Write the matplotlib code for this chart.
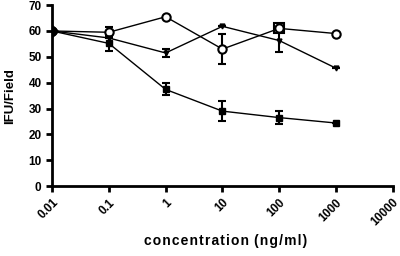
import numpy as np
import matplotlib
matplotlib.use('Agg')
from matplotlib import pyplot as plt

plt.rcParams['font.family'] = ['Liberation Sans', 'DejaVu Sans']
plt.rcParams['font.weight'] = 'bold'

conc = [0.01, 0.1, 1, 10, 100, 1000]

circle_vals = [60, 59.5, 65.5, 53, 61, 59]
circle_err = [0, 2, 0, 5.8, 0, 0]

tri_vals = [60, 57.3, 51.5, 61.8, 56.3, 45.6]
tri_err = [0, 0, 1.5, 0, 4.5, 0]

sq_vals = [60, 55.2, 37.4, 29, 26.5, 24.4]
sq_err = [0, 3, 2.3, 4, 2.6, 0]

open_sq_x = [100]
open_sq_vals = [61]
diamond_x = [0.01]
diamond_vals = [60]

xticks = [0.01, 0.1, 1, 10, 100, 1000, 10000]
xticklabels = ['0.01', '0.1', '1', '10', '100', '1000', '10000']
yticks = [0, 10, 20, 30, 40, 50, 60, 70]

fig = plt.figure(figsize=(4, 2.56), dpi=100)
ax = fig.add_axes([0.13, 0.273, 0.852, 0.707])

ekw = dict(color='black', lw=1, elinewidth=1.5, capsize=3, capthick=1.5)
ax.errorbar(conc, circle_vals, yerr=circle_err, marker='o', ms=6, mfc='white',
            mec='black', mew=1.5, **ekw)
ax.errorbar(conc, tri_vals, yerr=tri_err, marker='v', ms=3.5, mfc='black', **ekw)
ax.errorbar(conc, sq_vals, yerr=sq_err, marker='s', ms=4, mfc='black', **ekw)
ax.plot(open_sq_x, open_sq_vals, 's', ms=7, mfc='none', mec='black', mew=1.5)
ax.plot(diamond_x, diamond_vals, 'D', ms=6, color='black')

ax.set_xscale('log')
ax.set_xlim(0.01, 10000)
ax.set_ylim(0, 70)
ax.set_xticks(xticks)
ax.set_xticklabels(xticklabels, rotation=45, ha='right', rotation_mode='anchor')
ax.minorticks_off()
ax.set_yticks(yticks)
ax.tick_params(labelsize=8.5, width=2, length=4, direction='out')
for s in ['top', 'right']:
    ax.spines[s].set_visible(False)
for s in ['left', 'bottom']:
    ax.spines[s].set_linewidth(2)
ax.set_ylabel('IFU/Field', fontsize=9.5, fontweight='bold')
ax.yaxis.set_label_coords(-0.105, 0.5)
xl = '\u200a'.join('concentration') + '\u200a ' + '\u200a'.join('(ng/ml)')
ax.set_xlabel(xl, fontsize=10, fontweight='bold')
ax.xaxis.set_label_coords(0.51, -0.265)
ax.patch.set_visible(False)

fig.savefig('out.png', dpi=100)
